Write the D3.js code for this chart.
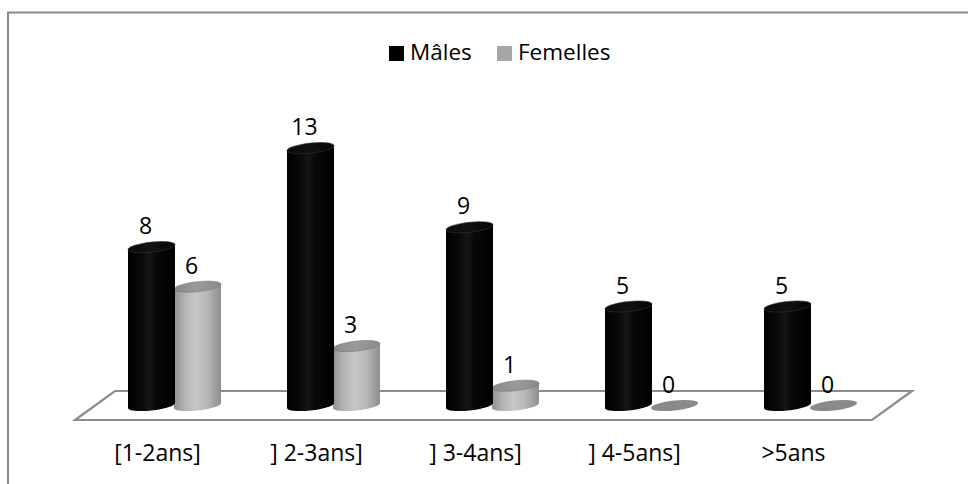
<!DOCTYPE html>
<html>
<head>
<meta charset="utf-8">
<script src="https://cdn.jsdelivr.net/npm/d3@7"></script>
<style>
  html, body { margin: 0; padding: 0; background: #fff; }
  svg { display: block; font-family: "Open Sans", "Noto Sans", sans-serif; }
</style>
</head>
<body>
<svg id="chart" width="968" height="484"></svg>
<script>
// Age classes and counts per sex
const categories = ["[1-2ans]", "] 2-3ans]", "] 3-4ans]", "] 4-5ans]", ">5ans"];
const seriesNames = ["Mâles", "Femelles"];
const males = [8, 13, 9, 5, 5];
const females = [6, 3, 1, 0, 0];

const svg = d3.select("#chart");

// Outer chart frame (runs past the right and bottom edges)
svg.append("rect")
  .attr("x", 8).attr("y", 12.5)
  .attr("width", 1000).attr("height", 500)
  .attr("fill", "#fff")
  .attr("stroke", "#8a8a8a").attr("stroke-width", 2);

// Scales
const baseY = 405.5;
const y = d3.scaleLinear().domain([0, 14]).range([baseY, baseY - 14 * 19.8]);
const x = d3.scaleBand().domain(categories).range([95, 890]).paddingInner(0).paddingOuter(0);
const xs = d3.scaleBand().domain(seriesNames).range([-46, 46]).padding(0);
const rx = 23.5, ry = 5;
const depthShift = { dx: 40, dy: 29 };

// Floor (oblique parallelogram)
const floorBack = baseY - 14.5, floorFront = baseY + 14.5;
const floorPts = [
  [x.range()[0] + 20, floorBack],
  [x.range()[1] + 22, floorBack],
  [x.range()[1] + 22 - depthShift.dx, floorFront],
  [x.range()[0] + 20 - depthShift.dx, floorFront]
];
svg.append("path")
  .attr("d", d3.line()(floorPts) + "Z")
  .attr("fill", "#fff")
  .attr("stroke", "#8c8c8c")
  .attr("stroke-width", 2.2)
  .attr("stroke-linejoin", "miter");

// Gradients for cylinder bodies
const defs = svg.append("defs");
function hGrad(id, stops) {
  const g = defs.append("linearGradient").attr("id", id)
    .attr("x1", "0%").attr("x2", "100%").attr("y1", "0%").attr("y2", "0%");
  stops.forEach(([o, c]) => g.append("stop").attr("offset", o).attr("stop-color", c));
}
hGrad("gMale", [["0%", "#000"], ["30%", "#0a0a0a"], ["45%", "#161616"], ["60%", "#080808"], ["100%", "#000"]]);
hGrad("gFemale", [["0%", "#929292"], ["25%", "#b6b6b6"], ["45%", "#c6c6c6"], ["70%", "#b8b8b8"], ["100%", "#8e8e8e"]]);
hGrad("gMaleTop", [["0%", "#0a0a0a"], ["50%", "#111"], ["100%", "#050505"]]);
hGrad("gFemaleTop", [["0%", "#8a8a8a"], ["50%", "#9a9a9a"], ["100%", "#8a8a8a"]]);

const series = [
  { name: "Femelles", values: females, body: "url(#gFemale)", top: "url(#gFemaleTop)", flat: "#8a8a8a", rim: "#7a7a7a" },
  { name: "Mâles", values: males, body: "url(#gMale)", top: "url(#gMaleTop)", flat: "#000", rim: "#333" }
];

const tilt = -6; // skew giving the oblique view of the circular caps

function drawCylinder(g, cx, v, s) {
  const yTop = y(v), yBot = y(0);
  const c = g.append("g").attr("transform", `translate(${cx},0) skewY(${tilt})`);
  if (v === 0) {
    c.append("ellipse").attr("cx", 0).attr("cy", yBot).attr("rx", rx).attr("ry", ry)
      .attr("fill", s.flat);
    return;
  }
  c.append("path")
    .attr("d", `M${-rx},${yTop} L${-rx},${yBot} A${rx},${ry} 0 0 0 ${rx},${yBot} L${rx},${yTop} Z`)
    .attr("fill", s.body);
  c.append("ellipse").attr("cx", 0).attr("cy", yTop).attr("rx", rx).attr("ry", ry)
    .attr("fill", s.top).attr("stroke", s.rim).attr("stroke-width", 0.6);
}

const bars = svg.append("g");
series.forEach(s => {
  categories.forEach((cat, i) => {
    const cx = x(cat) + x.bandwidth() / 2 + xs(s.name) + xs.bandwidth() / 2;
    drawCylinder(bars, cx, s.values[i], s);
  });
});

// Value labels
const labels = svg.append("g").attr("font-size", 23).attr("fill", "#000").attr("text-anchor", "middle");
series.forEach(s => {
  categories.forEach((cat, i) => {
    const cx = x(cat) + x.bandwidth() / 2 + xs(s.name) + xs.bandwidth() / 2;
    labels.append("text")
      .attr("x", cx - 6)
      .attr("y", y(s.values[i]) - 13)
      .text(s.values[i]);
  });
});

// Category axis labels along the front edge of the floor
const catLabels = svg.append("g").attr("font-size", 23).attr("fill", "#000").attr("text-anchor", "middle");
categories.forEach(cat => {
  catLabels.append("text")
    .attr("x", x(cat) + x.bandwidth() / 2 - 17)
    .attr("y", 461)
    .text(cat);
});

// Legend
const legendItems = [
  { name: "Mâles", color: "#000", x: 389 },
  { name: "Femelles", color: "#a6a6a6", x: 497 }
];
const legend = svg.append("g");
legendItems.forEach(d => {
  legend.append("rect").attr("x", d.x).attr("y", 46).attr("width", 15).attr("height", 15).attr("fill", d.color);
  legend.append("text").attr("x", d.x + 21).attr("y", 60).attr("font-size", 22.5).attr("fill", "#000").text(d.name);
});
</script>
</body>
</html>
